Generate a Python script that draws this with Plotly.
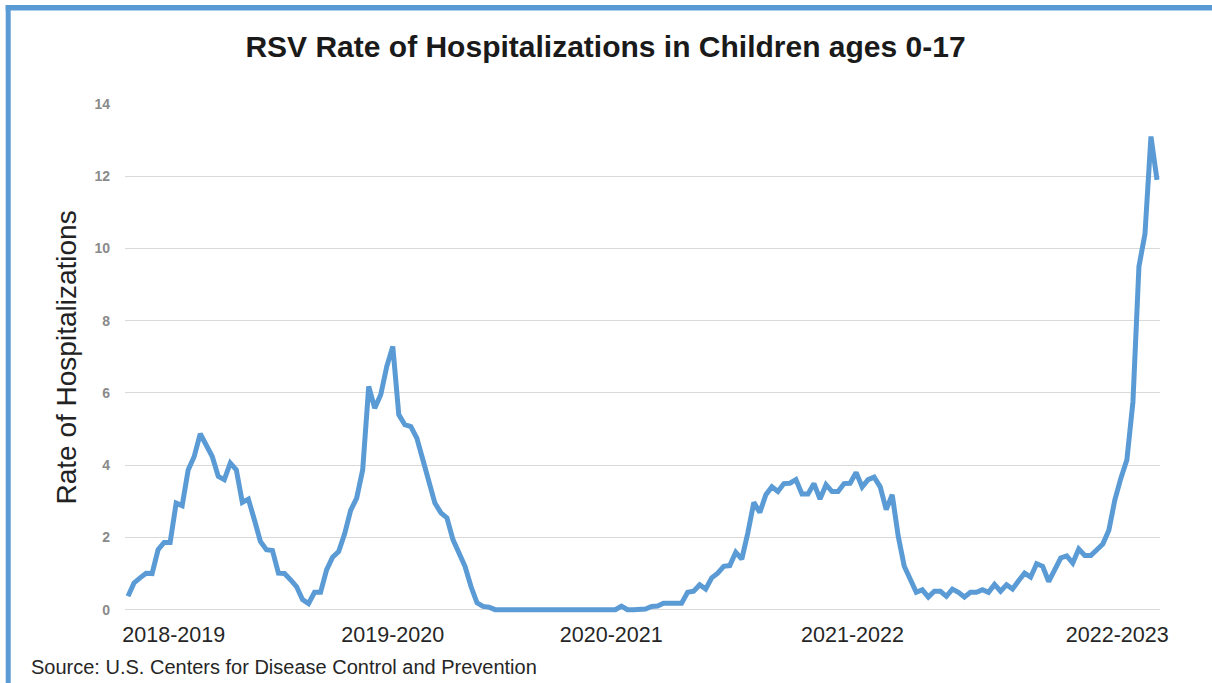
import plotly.graph_objects as go

# ---- data: weekly RSV hospitalization rate (children 0-17) ----
rate_2018_19 = [0.37, 0.74, 0.88, 1.01, 1.0, 1.66, 1.86, 1.86, 2.95, 2.88,
                3.87, 4.24, 4.87, 4.57, 4.24, 3.69, 3.6, 4.06, 3.87, 2.97,
                3.06, 2.49, 1.89, 1.66, 1.64, 1.01, 1.0, 0.83, 0.64, 0.28,
                0.17]
rate_2019_20 = [0.48, 0.48, 1.1, 1.45, 1.61, 2.1, 2.75, 3.09, 3.87,
                6.18, 5.58, 5.95, 6.73, 7.29, 5.4, 5.12, 5.07, 4.75, 4.15,
                3.51, 2.95, 2.68, 2.54, 1.94, 1.55, 1.2, 0.64, 0.19, 0.09,
                0.07, 0.0]
rate_2020_21 = [0.0, 0.0, 0.0, 0.0, 0.0, 0.0, 0.0, 0.0, 0.0, 0.0,
                0.0, 0.0, 0.0, 0.0, 0.0, 0.0, 0.0, 0.0, 0.0, 0.0,
                0.1, 0.0, 0.0, 0.0, 0.02, 0.09, 0.1, 0.18, 0.18, 0.18,
                0.18, 0.48, 0.51, 0.69, 0.57, 0.88, 1.01, 1.2, 1.22, 1.59,
                1.40]
rate_2021_22 = [2.12, 2.97, 2.69, 3.18, 3.4, 3.27, 3.49, 3.5, 3.6, 3.2,
                3.2, 3.49, 3.06, 3.46, 3.27, 3.27, 3.49, 3.5, 3.8, 3.4,
                3.6, 3.67, 3.4, 2.77, 3.18, 2.03, 1.2, 0.83, 0.48, 0.55,
                0.35, 0.51, 0.51, 0.37, 0.57, 0.48, 0.35, 0.48, 0.48, 0.55,
                0.48, 0.70, 0.51, 0.69, 0.57]
rate_2022_23 = [0.8, 1.01, 0.9, 1.27, 1.2, 0.78, 1.1, 1.43, 1.49, 1.29,
                1.68, 1.50, 1.50, 1.68, 1.82, 2.2, 3.04, 3.64, 4.15, 5.75,
                9.5, 10.4, 13.1, 11.9]

rate = rate_2018_19 + rate_2019_20 + rate_2020_21 + rate_2021_22 + rate_2022_23
week = list(range(len(rate)))

season_labels = ["2018-2019", "2019-2020", "2020-2021", "2021-2022", "2022-2023"]
season_label_week = [7.6, 44, 80.3, 120.4, 164.4]

y_ticks = [0, 2, 4, 6, 8, 10, 12, 14]

# ---- layout geometry ----
W, H = 1212, 683
L, R, T, B = 125, 52, 104, 69
plot_w = W - L - R
plot_h = H - T - B


def px_x(px):
    return (px - L) / plot_w


def px_y(py):
    return (H - B - py) / plot_h


BLUE = "#5b9bd5"

fig = go.Figure()
fig.add_trace(go.Scatter(
    x=week, y=rate, mode="lines",
    line=dict(color=BLUE, width=5),
    showlegend=False, hoverinfo="skip",
))

fig.update_layout(
    width=W, height=H,
    margin=dict(l=L, r=R, t=T, b=B),
    paper_bgcolor="white", plot_bgcolor="white",
    title=dict(
        text="RSV Rate of Hospitalizations in Children ages 0-17",
        font=dict(family="Liberation Sans, Arial, sans-serif", size=30,
                  color="#1a1a1a", weight="bold"),
        x=0.4996, xanchor="center", xref="container",
        y=1 - 46 / H, yanchor="middle", yref="container",
    ),
    xaxis=dict(
        range=[-0.5, 171.5],
        tickmode="array", tickvals=season_label_week, ticktext=season_labels,
        showgrid=False, zeroline=False, showline=False, ticks="",
        tickfont=dict(family="Liberation Sans, Arial, sans-serif",
                      size=21.5, color="#262626"),
        ticklabelstandoff=5,
    ),
    yaxis=dict(
        range=[-0.12, 14],
        tickmode="array", tickvals=y_ticks,
        showgrid=True, gridcolor="#d9d9d9", gridwidth=1,
        zeroline=False, showline=False, ticks="",
        tickfont=dict(family="Liberation Sans, Arial, sans-serif", size=14,
                      color="#8a8a8a", weight="bold"),
        ticklabelstandoff=14,
    ),
    annotations=[
        dict(text="Rate of Hospitalizations", textangle=-90,
             xref="paper", yref="paper", x=px_x(66), y=px_y(357.5),
             xanchor="center", yanchor="middle", showarrow=False,
             font=dict(family="Liberation Sans, Arial, sans-serif", size=28, color="#222222")),
        dict(text="Source: U.S. Centers for Disease Control and Prevention",
             xref="paper", yref="paper", x=px_x(29), y=px_y(667),
             xanchor="left", yanchor="middle", showarrow=False,
             font=dict(family="Liberation Sans, Arial, sans-serif", size=20, color="#262626")),
    ],
    shapes=[
        dict(type="line", xref="paper", yref="paper",
             x0=px_x(8.2), x1=px_x(8.2), y0=px_y(H + 5), y1=px_y(5.2),
             line=dict(color=BLUE, width=5)),
        dict(type="line", xref="paper", yref="paper",
             x0=px_x(5.7), x1=px_x(W + 5), y0=px_y(7.8), y1=px_y(7.8),
             line=dict(color=BLUE, width=5.5)),
    ],
)

fig.write_html("out.html")
